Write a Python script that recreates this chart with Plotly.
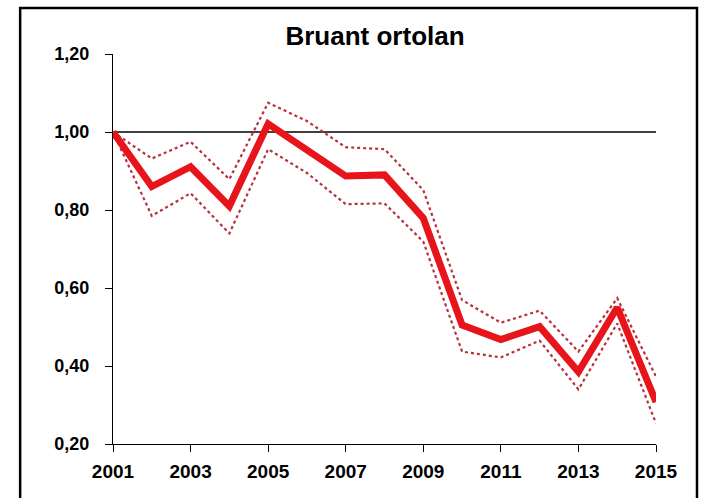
import plotly.graph_objects as go

years = list(range(2001, 2016))
index_main = [1.00, 0.860, 0.911, 0.810, 1.021, 0.954, 0.887, 0.890, 0.779, 0.505, 0.468, 0.501, 0.385, 0.550, 0.308]
index_upper = [1.00, 0.932, 0.975, 0.879, 1.075, 1.028, 0.961, 0.956, 0.851, 0.569, 0.511, 0.542, 0.437, 0.574, 0.373]
index_lower = [1.00, 0.785, 0.843, 0.740, 0.956, 0.895, 0.815, 0.817, 0.719, 0.437, 0.422, 0.465, 0.340, 0.509, 0.253]
ref_level = [1.0, 1.0]
ref_years = [2001, 2015]
y_ticks = [0.2, 0.4, 0.6, 0.8, 1.0, 1.2]
x_ticks = [2001, 2003, 2005, 2007, 2009, 2011, 2013, 2015]

FONT = "Liberation Sans"

fig = go.Figure()
fig.add_trace(go.Scatter(x=ref_years, y=ref_level, mode="lines",
                         line=dict(color="black", width=1.3), hoverinfo="skip"))
fig.add_trace(go.Scatter(x=years, y=index_upper, mode="lines",
                         line=dict(color="#b8303c", width=2.2, dash="dot")))
fig.add_trace(go.Scatter(x=years, y=index_lower, mode="lines",
                         line=dict(color="#b8303c", width=2.2, dash="dot")))
fig.add_trace(go.Scatter(x=years, y=index_main, mode="lines",
                         line=dict(color="#e8141b", width=7)))

fig.update_layout(
    width=701, height=498,
    margin=dict(l=113, r=45, t=54, b=54),
    paper_bgcolor="white", plot_bgcolor="white",
    showlegend=False,
    separators=",.",
    title=dict(text="Bruant ortolan", x=0.535, xanchor="center",
               y=0.927, yanchor="middle",
               font=dict(family=FONT, size=26, color="black", weight="bold")),
    font=dict(family=FONT, color="black"),
    shapes=[dict(type="rect", xref="paper", yref="paper",
                 x0=-0.171, x1=1.0755, y0=-0.2, y1=1.118,
                 line=dict(color="black", width=2.5))],
)
fig.update_xaxes(range=[2001, 2015], tickvals=x_ticks, ticktext=[str(v) for v in x_ticks],
                 showgrid=False, zeroline=False, showline=True, linecolor="black", linewidth=1.3,
                 ticks="outside", ticklen=7, tickcolor="black", tickwidth=1.3,
                 ticklabelstandoff=3,
                 tickfont=dict(family=FONT, size=19, color="black", weight="bold"))
fig.update_yaxes(range=[0.2, 1.2], tickvals=y_ticks, tickformat=".2f",
                 showgrid=False, zeroline=False, showline=True, linecolor="black", linewidth=1.3,
                 ticks="outside", ticklen=7, tickcolor="black", tickwidth=1.3,
                 ticklabelstandoff=12,
                 tickfont=dict(family=FONT, size=18, color="black", weight="bold"))

fig.write_html("out.html", config={"displayModeBar": False},
               post_script="document.body.style.margin='0';document.body.style.overflow='hidden';")
